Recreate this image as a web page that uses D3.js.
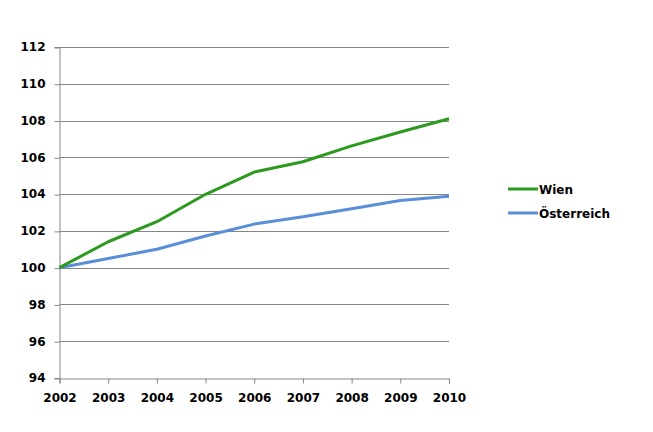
<!DOCTYPE html>
<html><head><meta charset="utf-8">
<script src="https://cdn.jsdelivr.net/npm/d3@7"></script>
<style>body{margin:0;background:#fff}svg text{font-family:"DejaVu Sans",Verdana,sans-serif;font-weight:bold;font-size:12px;fill:#000}</style>
</head><body><svg id="c" width="653" height="432"></svg>
<script>
const years = [2002,2003,2004,2005,2006,2007,2008,2009,2010];
const wien = [100,101.41,102.5,103.99,105.2,105.76,106.62,107.38,108.1];
const oesterreich = [100,100.5,101.0,101.72,102.37,102.77,103.2,103.65,103.88];
const yTicks = [94,96,98,100,102,104,106,108,110,112];
const seriesNames = ["Wien","Österreich"];
const colors = ["#2b9a1e","#5a8ed8"];

const svg = d3.select("#c");
const x = d3.scaleLinear().domain([2002,2010]).range([59.5,449]);
const y = d3.scaleLinear().domain([94,112]).range([378,47]);
const grid = "#868686";

svg.append("g").selectAll("line").data(yTicks.slice(1)).join("line")
  .attr("x1",59.5).attr("x2",449).attr("y1",d=>Math.round(y(d))+0.5).attr("y2",d=>Math.round(y(d))+0.5)
  .attr("stroke",grid).attr("stroke-width",1);

const yAxis = svg.append("g").attr("transform","translate(59.5,0)")
  .call(d3.axisLeft(y).tickValues(yTicks).tickSize(5).tickPadding(9).tickFormat(d3.format("d")));
yAxis.selectAll("line").attr("stroke",grid).attr("transform","translate(0,0.5)");
yAxis.select(".domain").attr("stroke",grid);
yAxis.selectAll("text").style("font-family",null).style("font-size",null).attr("font-size",null).attr("font-family",null);

const xAxis = svg.append("g").attr("transform","translate(0,378.5)")
  .call(d3.axisBottom(x).tickValues(years).tickSize(5).tickPadding(10).tickFormat(d3.format("d")));
xAxis.selectAll("line").attr("stroke",grid);
xAxis.select(".domain").attr("stroke",grid);
xAxis.selectAll("text").attr("font-size",null).attr("font-family",null);
svg.selectAll(".tick text").attr("font-size",null);
svg.selectAll("g").attr("font-size",null).attr("font-family",null);

const line = d3.line().x((d,i)=>x(years[i])).y(d=>y(d));
[oesterreich,wien].forEach((s,k)=>{
  svg.append("path").datum(s).attr("d",line).attr("fill","none")
    .attr("stroke",colors[1-k]).attr("stroke-width",3).attr("stroke-linejoin","round");
});

const leg = svg.append("g");
seriesNames.forEach((n,i)=>{
  const yy = 189 + i*24;
  leg.append("line").attr("x1",508).attr("x2",538).attr("y1",yy).attr("y2",yy)
    .attr("stroke",colors[i]).attr("stroke-width",3);
  leg.append("text").attr("x",539).attr("y",yy+4.5).text(n);
});
</script></body></html>
